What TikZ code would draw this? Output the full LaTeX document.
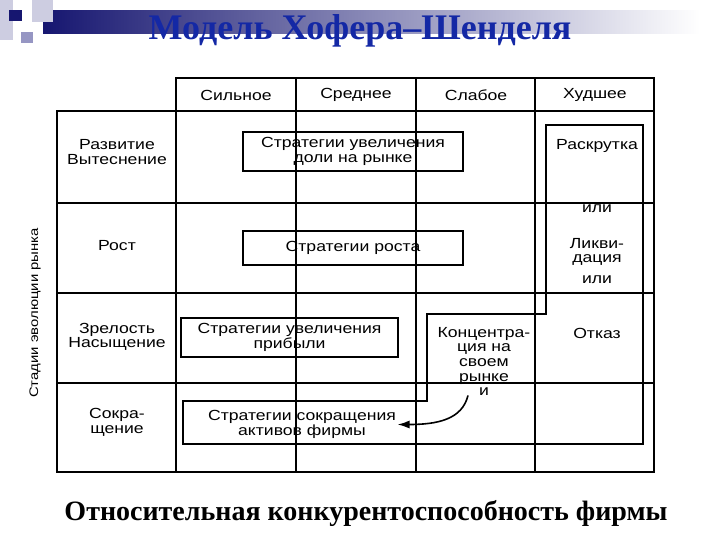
\documentclass[tikz,border=0pt]{standalone}
\usepackage{fontspec}
\setmainfont{Liberation Serif}
\newfontfamily\tabfont[FakeStretch=1.2]{Liberation Sans}
\usepackage{tikz}
\usetikzlibrary{arrows.meta, calc}
\definecolor{titleblue}{RGB}{20,40,165}
\definecolor{barnavy}{RGB}{22,22,112}
\definecolor{sqgray}{RGB}{150,150,195}
\definecolor{sqlight}{RGB}{205,205,225}

\begin{document}
\begin{tikzpicture}[
    x=0.75pt, y=-0.75pt,
    cell/.style={font=\tabfont\fontsize{11}{11}\selectfont, align=center, inner sep=1pt},
    stratbox/.style={cell, draw, line width=1.7pt, minimum width=165pt},
    grid/.style={line width=1.3pt},
    thickgrid/.style={line width=2.1pt},
    arr/.style={-{Latex[length=9pt,width=6pt]}, line width=1.2pt}
]
\useasboundingbox (0,0) rectangle (720,540);

% slide decoration
\shade[left color=barnavy, right color=white] (43,10) rectangle (700,33);
\fill[sqlight] (0,0) rectangle (13,40);
\fill[sqlight] (32,0) rectangle (53,22);
\fill[sqgray] (21,32) rectangle (33,43);
\fill[barnavy] (9,10) rectangle (22,21);

\node[font=\fontsize{27}{30}\selectfont\bfseries, text=titleblue] (title) at (360,31) {Модель Хофера–Шенделя};

% grid
\draw[thickgrid] (176,78) rectangle (654,111);
\draw[thickgrid] (57,111) rectangle (654,472);
\draw[grid] (57,203) -- (654,203);
\draw[grid] (57,293) -- (654,293);
\draw[grid] (57,383) -- (654,383);
\draw[thickgrid] (176,111) -- (176,472);
\draw[thickgrid] (296,78) -- (296,472);
\draw[thickgrid] (416,78) -- (416,472);
\draw[thickgrid] (535,78) -- (535,472);

% column heads
\node[cell] (strong) at (236,95) {Сильное};
\node[cell] (middle) at (356,95) {Среднее};
\node[cell] (weak)   at (476,95) {Слабое};
\node[cell] (worst)  at (595,95) {Худшее};

% stages
\node[cell] (devel)  at (117,152) {Развитие\\Вытеснение};
\node[cell] (growth) at (117,246) {Рост};
\node[cell] (mature) at (117,337) {Зрелость\\Насыщение};
\node[cell] (shrink) at (117,422) {Сокра-\\щение};
\node[cell, rotate=90, font=\tabfont\fontsize{9.3}{11}\selectfont] (stages) at (35,313) {Стадии эволюции рынка};

% strategies
\node[stratbox, minimum height=29pt] (share)  at (353,151.5) {Стратегии увеличения\\доли на рынке};
\node[stratbox, minimum height=25.5pt] (grow) at (353,248) {Стратегии роста};
\node[stratbox, minimum width=163pt, minimum height=29pt] (profit) at (289.5,337.5) {Стратегии увеличения\\прибыли};
\node[cell] (cut) at (302,424.5) {Стратегии сокращения\\активов фирмы};
\draw[line width=1.7pt] (183,401) -- (183,444) -- (643,444) -- (643,125) -- (546,125)
    -- (546,314) -- (427,314) -- (427,401) -- cycle;

\node[cell] (spin)  at (597,146) {Раскрутка};
\node[cell] (or1)   at (597,209) {или};
\node[cell] (liq)   at (597,252) {Ликви-\\дация};
\node[cell] (or2)   at (597,280) {или};
\node[cell] (quit)  at (597,333) {Отказ};
\node[cell] (conc)  at (484,361.5) {Концентра-\\ция на\\своем\\рынке\\и};

\draw[arr] ($(conc.south)+(-16,-2)$) .. controls +(-6,24) and +(40,0) .. (cut.east);

\node[font=\fontsize{21}{24}\selectfont\bfseries] (axis) at (366,513) {Относительная конкурентоспособность фирмы};
\end{tikzpicture}
\end{document}
